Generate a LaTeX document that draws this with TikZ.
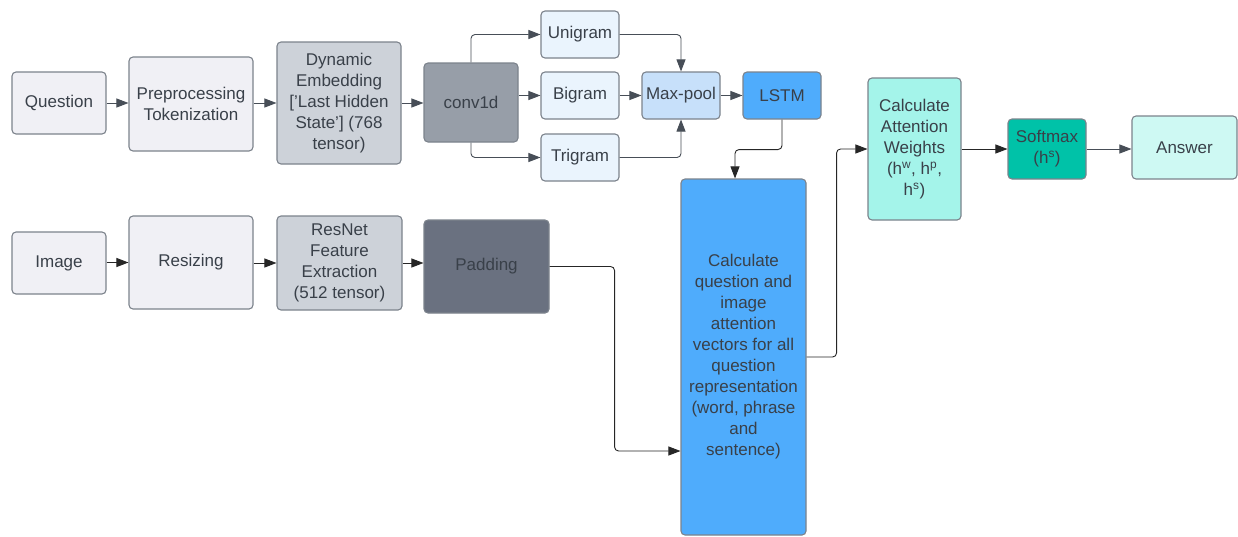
\documentclass[tikz,border=0pt]{standalone}
\usepackage{fontspec}
\setmainfont{Liberation Sans}
\usetikzlibrary{arrows.meta,calc}
\definecolor{txt}{HTML}{394049}
\definecolor{bord}{HTML}{7C838C}
\definecolor{cLight}{HTML}{F0F0F5}
\definecolor{cMid}{HTML}{CDD2D9}
\definecolor{cConv}{HTML}{979EA8}
\definecolor{cPad}{HTML}{6A7180}
\definecolor{cGram}{HTML}{EAF4FD}
\definecolor{cPool}{HTML}{C7E0FA}
\definecolor{cBlue}{HTML}{4FACFC}
\definecolor{cAtt}{HTML}{A4F4EA}
\definecolor{cSoft}{HTML}{00C2A8}
\definecolor{cAns}{HTML}{CEF9F3}
\definecolor{lnGray}{HTML}{474E57}
\definecolor{lnDark}{HTML}{262626}
\tikzset{
  box/.style={draw=bord, line width=1.1pt, rounded corners=4pt, align=center,
    text=txt, inner sep=0pt, font=\fontsize{17}{21}\selectfont},
  conn/.style={line width=0.9pt, draw=lnGray, rounded corners=4pt,
    -{Triangle[length=12pt,width=9pt]}},
  connd/.style={conn, draw=lnDark},
}
\begin{document}
\begin{tikzpicture}[x=1pt,y=-1pt]
\useasboundingbox[fill=white] (0,0) rectangle (1238,536);
% question row
\node[box, fill=cLight, minimum width=94pt, minimum height=62pt] (q) at (59,103) {Question};
\node[box, fill=cLight, minimum width=124pt, minimum height=94pt] (pre) at (191,104) {Preprocessing\\Tokenization};
\node[box, fill=cMid, minimum width=124pt, minimum height=122pt] (dyn) at (339,103) {Dynamic\\Embedding\\{}['Last Hidden\\State'] (768\\tensor)};
\node[box, fill=cConv, minimum width=94pt, minimum height=79pt] (conv) at (471,102.5) {conv1d};
\node[box, fill=cGram, minimum width=78pt, minimum height=47pt] (uni) at (580,34.5) {Unigram};
\node[box, fill=cGram, minimum width=78pt, minimum height=47pt] (bi) at (580,95.5) {Bigram};
\node[box, fill=cGram, minimum width=78pt, minimum height=47pt] (tri) at (580,157.5) {Trigram};
\node[box, fill=cPool, minimum width=78pt, minimum height=47pt] (mp) at (681,95.5) {Max-pool};
\node[box, fill=cBlue, minimum width=78pt, minimum height=47pt] (lstm) at (782,95.5) {LSTM};
% big box
\node[box, fill=cBlue, minimum width=125pt, minimum height=356pt] (big) at (743.5,357) {Calculate\\question and\\image\\attention\\vectors for all\\question\\representation\\(word, phrase\\and\\sentence)};
\node[box, fill=cAtt, minimum width=93pt, minimum height=142pt] (att) at (914.5,149) {Calculate\\Attention\\Weights\\(h\textsuperscript{w}, h\textsuperscript{p},\\h\textsuperscript{s})};
\node[box, fill=cSoft, minimum width=78pt, minimum height=60pt] (soft) at (1047,149) {Softmax\\(h\textsuperscript{s})};
\node[box, fill=cAns, minimum width=105pt, minimum height=63pt] (ans) at (1184.5,147.5) {Answer};
% image row
\node[box, fill=cLight, minimum width=94pt, minimum height=62pt] (img) at (59,263) {Image};
\node[box, fill=cLight, minimum width=124pt, minimum height=93pt] (res) at (191,262.5) {Resizing};
\node[box, fill=cMid, minimum width=125pt, minimum height=94pt] (rn) at (339.5,263) {ResNet\\Feature\\Extraction\\(512 tensor)};
\node[box, fill=cPad, minimum width=125pt, minimum height=93pt] (pad) at (486.5,266.5) {Padding};
% connectors: question row
\draw[conn] (q.east) -- (q.east -| pre.west);
\draw[conn] (pre.east |- dyn.east) -- (dyn.west);
\draw[conn] (dyn.east) -- (dyn.east -| conv.west);
\draw[conn] (conv.east |- bi.west) -- (bi.west);
\draw[conn] (conv.north) |- (uni.west);
\draw[conn] (conv.south) |- (tri.west);
\draw[conn] (uni.east) -| (mp.north);
\draw[conn] (tri.east) -| (mp.south);
\draw[conn] (bi.east) -- (mp.west);
\draw[conn] (mp.east) -- (lstm.west);
\draw[connd] (lstm.south) -- ++(0,30) -| ([xshift=-8.5pt]big.north);
% connectors: image row
\draw[connd] (img.east |- res.west) -- (res.west);
\draw[connd] (res.east |- rn.west) -- (rn.west);
\draw[connd] (rn.east) -- (rn.east -| pad.west);
\draw[connd] (pad.east) -- ++(65,0) |- ($(big.west)+(0,94)$);
% right part
\draw[connd] (big.east) -- ++(30,0) |- (att.west);
\draw[connd] (att.east) -- (soft.west);
\draw[conn] (soft.east) -- (soft.east -| ans.west);
\end{tikzpicture}
\end{document}
